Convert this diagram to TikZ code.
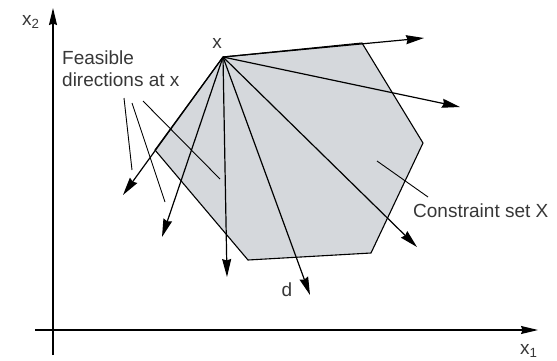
\documentclass[tikz,border=0pt]{standalone}
\usepackage{fontspec}
\setmainfont{Liberation Sans}
\usetikzlibrary{arrows.meta}
\definecolor{setgray}{RGB}{213,216,220}
\definecolor{txtgray}{RGB}{55,55,55}
\tikzset{
  dirarrow/.style={-{Stealth[length=18pt,width=9pt,inset=1.5pt]}, line width=1.2pt},
  axisarrow/.style={-{Stealth[length=17pt,width=8pt,inset=1.5pt]}, line width=1.2pt},
  leader/.style={line width=0.9pt},
  lbl/.style={font=\fontsize{19}{22}\selectfont, text=txtgray, inner sep=0pt},
}
\begin{document}
\begin{tikzpicture}[x=1pt,y=-1pt]
    \useasboundingbox (0,0) rectangle (557,360);
    % axes
    \coordinate (O) at (53,330);
    \coordinate (ybot) at (53,355);
    \coordinate (ytop) at (53,8);
    \coordinate (xleft) at (35,330);
    \coordinate (xright) at (538,330);
    \draw[axisarrow] (ybot) to (ytop);
    \draw[axisarrow] (xleft) to (xright);
    % constraint set
    \coordinate (x) at (223,57);
    \coordinate (P1) at (362,43);
    \coordinate (P2) at (423,143);
    \coordinate (P3) at (371,253);
    \coordinate (P4) at (248,260);
    \coordinate (P5) at (155,150);
    \fill[setgray] (x) -- (P1) -- (P2) -- (P3) -- (P4) -- (P5) -- cycle;
    \draw[line width=1.1pt] (x) -- (P1) -- (P2) -- (P3) -- (P4) -- (P5) -- cycle;
    % directions
    \coordinate (D1) at (123,195);
    \coordinate (D2) at (162,237);
    \coordinate (D3) at (227,277);
    \coordinate (D4) at (310,295);
    \coordinate (D5) at (417,247);
    \coordinate (D6) at (460,107);
    \coordinate (D7) at (424,38);
    \draw[dirarrow] (x) to (D1);
    \draw[dirarrow] (x) to (D2);
    \draw[dirarrow] (x) to (D3);
    \draw[dirarrow] (x) to (D4);
    \draw[dirarrow] (x) to (D5);
    \draw[dirarrow] (x) to (D6);
    \draw[dirarrow] (x) to (D7);
    % labels
    \node[lbl, anchor=base west] (X2) at (22,25) {x\textsubscript{2}};
    \node[lbl, anchor=base west] (X1) at (520,354) {x\textsubscript{1}};
    \node[lbl, anchor=base] (xlbl) at (217,48) {x};
    \node[lbl, anchor=base] (dlbl) at (287,296) {d};
    \node[lbl, anchor=north west, align=left] (feas) at (62,51) {Feasible\\directions at x};
    \node[lbl, anchor=base west] (cset) at (413,217) {Constraint set X};
    % leader lines
    \coordinate (FA1) at (124,98);
    \coordinate (FB1) at (132,170);
    \coordinate (FA2) at (132,103);
    \coordinate (FB2) at (165,202);
    \coordinate (FA3) at (143,101);
    \coordinate (FB3) at (220,179);
    \coordinate (CA) at (428,197);
    \coordinate (CB) at (377,161);
    \draw[leader] (FA1) to (FB1);
    \draw[leader] (FA2) to (FB2);
    \draw[leader] (FA3) to (FB3);
    \draw[leader] (CA) to (CB);
\end{tikzpicture}
\end{document}
